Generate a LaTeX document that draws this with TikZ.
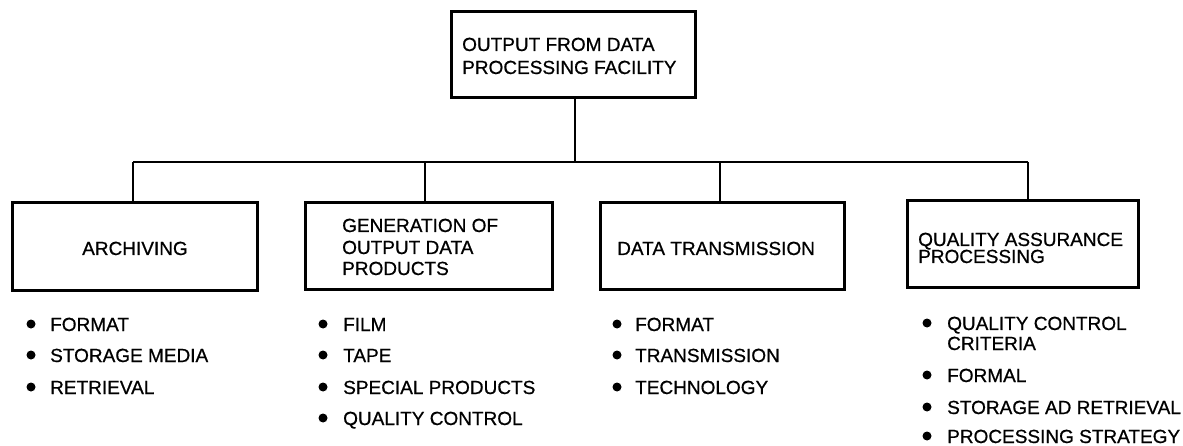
\documentclass[tikz,border=0pt]{standalone}
\usepackage{fontspec}
\setmainfont{Liberation Sans}
\newfontfamily\heavysans[FakeBold=0.7]{Liberation Sans}
\begin{document}
\begin{tikzpicture}[x=1pt,y=-1pt,
  box/.style={draw,line width=3pt,inner sep=0pt},
  conn/.style={line width=2.4pt},
  txt/.style={anchor=base west,inner sep=0pt,font=\heavysans\fontsize{19}{21}\selectfont},
  ctxt/.style={anchor=base,inner sep=0pt,font=\heavysans\fontsize{19}{21}\selectfont},
  dot/.style={circle,fill,inner sep=0pt,minimum size=9pt}]
\useasboundingbox (0,0) rectangle (1183,446);
% boxes
\node[box,minimum width=244pt,minimum height=86pt] (top) at (573,55) {};
\node[box,minimum width=245pt,minimum height=88pt] (b1) at (134.5,247) {};
\node[box,minimum width=247pt,minimum height=87pt] (b2) at (428.5,246.5) {};
\node[box,minimum width=244pt,minimum height=87pt] (b3) at (722,246.5) {};
\node[box,minimum width=231pt,minimum height=87pt] (b4) at (1022.5,244.5) {};
% box texts
\node[txt] (t0a) at (462,51) {OUTPUT FROM DATA};
\node[txt] (t0b) at (462,74) {PROCESSING FACILITY};
\node[ctxt] (t1) at (135,255) {ARCHIVING};
\node[txt] (t2a) at (342,232) {GENERATION OF};
\node[txt] (t2b) at (342,254) {OUTPUT DATA};
\node[txt] (t2c) at (342,275) {PRODUCTS};
\node[txt] (t3) at (617,255) {DATA TRANSMISSION};
\node[txt] (t4a) at (918,246) {QUALITY ASSURANCE};
\node[txt] (t4b) at (918,263) {PROCESSING};
% connectors
\coordinate (j0) at (575,162);
\coordinate (j1) at (133,162);
\coordinate (j2) at (425,162);
\coordinate (j3) at (720,162);
\coordinate (j4) at (1028,162);
\draw[conn] (top.south -| j0) -- (j0);
\draw[conn] (j1) -- (j4);
\draw[conn] (j1) -- (j1 |- b1.north);
\draw[conn] (j2) -- (j2 |- b2.north);
\draw[conn] (j3) -- (j3 |- b3.north);
\draw[conn] (j4) -- (j4 |- b4.north);
% bullet lists
\node[dot] (d11) at (31,324) {}; \node[txt] (l11) at (50,331) {FORMAT};
\node[dot] (d12) at (31,355) {}; \node[txt] (l12) at (50,362) {STORAGE MEDIA};
\node[dot] (d13) at (31,387) {}; \node[txt] (l13) at (50,394) {RETRIEVAL};
\node[dot] (d21) at (323,324) {}; \node[txt] (l21) at (343,331) {FILM};
\node[dot] (d22) at (323,355) {}; \node[txt] (l22) at (343,362) {TAPE};
\node[dot] (d23) at (323,387) {}; \node[txt] (l23) at (343,394) {SPECIAL PRODUCTS};
\node[dot] (d24) at (323,418) {}; \node[txt] (l24) at (343,425) {QUALITY CONTROL};
\node[dot] (d31) at (617,324) {}; \node[txt] (l31) at (635,331) {FORMAT};
\node[dot] (d32) at (617,355) {}; \node[txt] (l32) at (635,362) {TRANSMISSION};
\node[dot] (d33) at (617,387) {}; \node[txt] (l33) at (635,394) {TECHNOLOGY};
\node[dot] (d41) at (927,323) {}; \node[txt] (l41) at (947,330) {QUALITY CONTROL};
\node[txt] (l41b) at (947,350) {CRITERIA};
\node[dot] (d42) at (927,375) {}; \node[txt] (l42) at (947,382) {FORMAL};
\node[dot] (d43) at (927,407) {}; \node[txt] (l43) at (947,414) {STORAGE AD RETRIEVAL};
\node[dot] (d44) at (927,436) {}; \node[txt] (l44) at (947,443) {PROCESSING STRATEGY};
\end{tikzpicture}
\end{document}
